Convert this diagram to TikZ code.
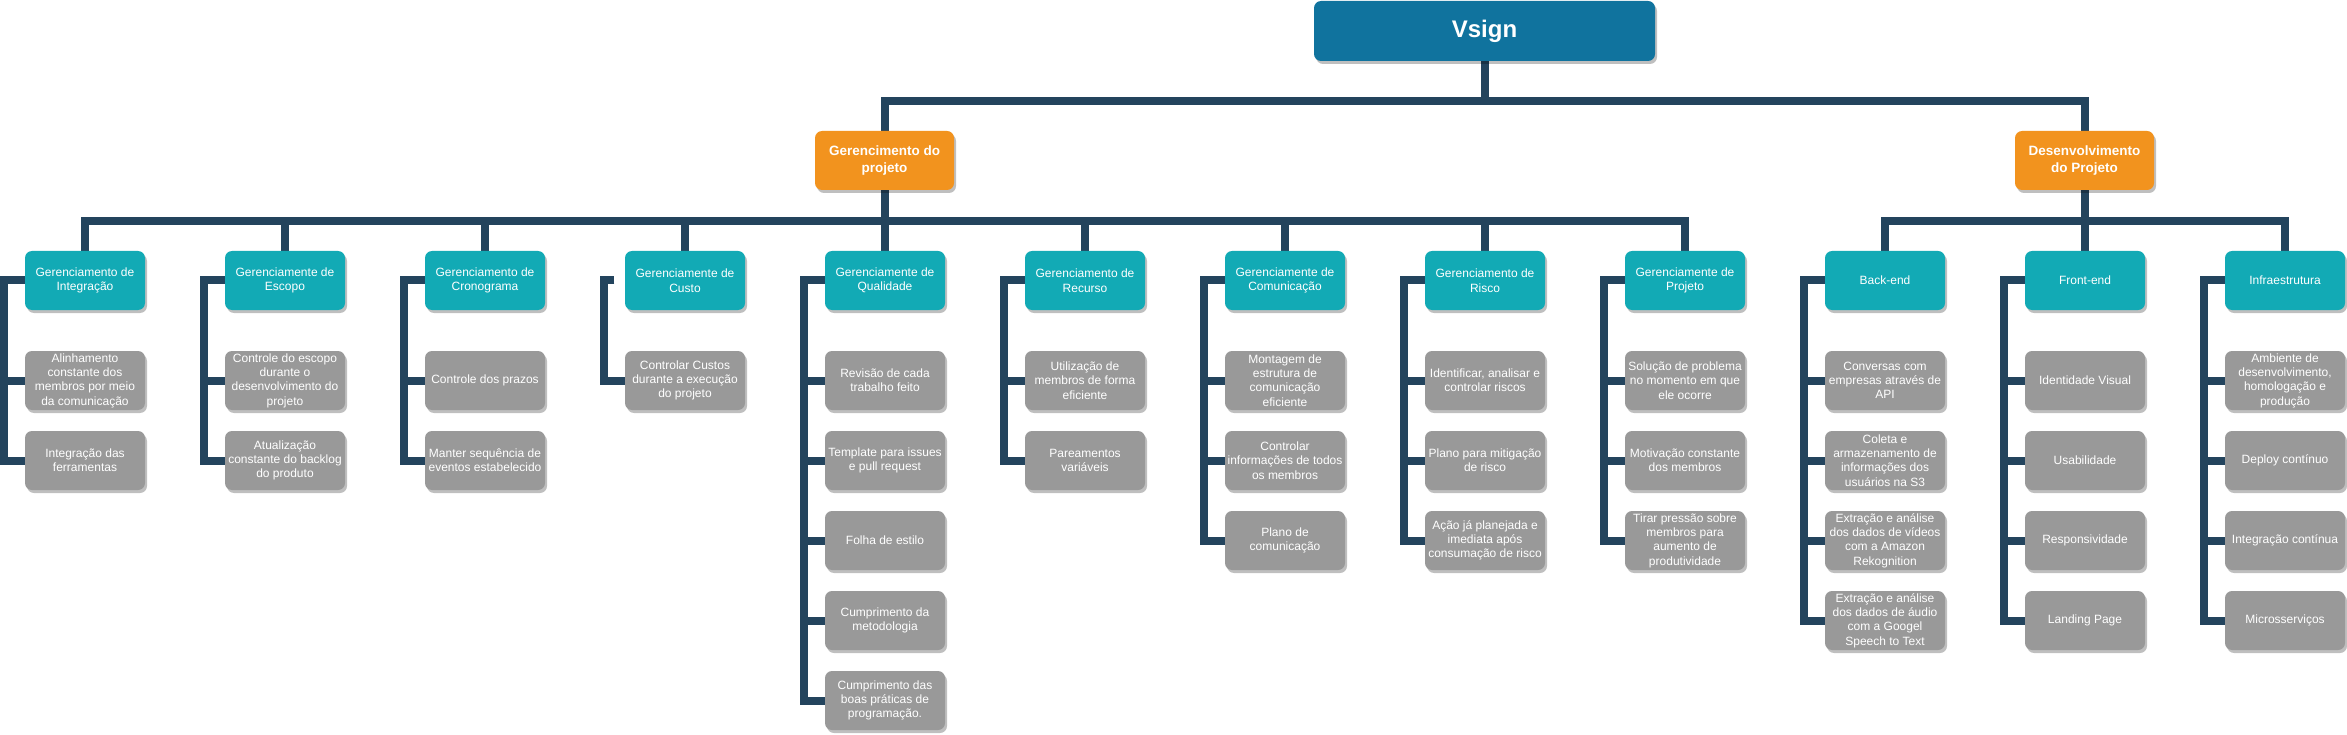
\documentclass[tikz,border=0pt]{standalone}
\usepackage{fontspec}
\setmainfont{Liberation Sans}
\usetikzlibrary{shadows,backgrounds}
\definecolor{rootc}{HTML}{10739E}
\definecolor{orangec}{HTML}{F2931E}
\definecolor{tealc}{HTML}{12AAB5}
\definecolor{grayc}{HTML}{999999}
\definecolor{linec}{HTML}{23445D}
\begin{document}
\begin{tikzpicture}[x=1pt,y=-1pt,
  box/.style={rounded corners=7pt, inner sep=1pt, align=center, text=white,
    drop shadow={shadow xshift=2pt, shadow yshift=-3pt, opacity=0.25, fill=black}},
  rootbox/.style={box, fill=rootc, minimum width=341pt, minimum height=60pt, font=\fontsize{24}{28}\selectfont\bfseries},
  phase/.style={box, fill=orangec, minimum width=139pt, minimum height=59pt, font=\fontsize{13.5}{16.5}\selectfont\bfseries},
  area/.style={box, fill=tealc, minimum width=120pt, minimum height=59pt, font=\fontsize{12}{14.5}\selectfont},
  task/.style={box, fill=grayc, minimum width=120pt, minimum height=59pt, font=\fontsize{12}{14.3}\selectfont},
  conn/.style={draw=linec, line width=8pt}
]
\useasboundingbox (0,0) rectangle (2347,735);

% root and phases
\node[rootbox] (root) at (1484.5,31) {Vsign};
\node[phase] (pm) at (884.5,160.5) {Gerencimento do\\projeto};
\node[phase] (dp) at (2084.5,160.5) {Desenvolvimento\\do Projeto};

% areas
\node[area] (a1) at (85,280.5) {Gerenciamento de\\Integração};
\node[area] (a2) at (285,280.5) {Gerenciamente de\\Escopo};
\node[area] (a3) at (485,280.5) {Gerenciamento de\\Cronograma};
\node[area] (a4) at (685,280.5) {Gerenciamente de\\Custo};
\node[area] (a5) at (885,280.5) {Gerenciamente de\\Qualidade};
\node[area] (a6) at (1085,280.5) {Gerenciamento de\\Recurso};
\node[area] (a7) at (1285,280.5) {Gerenciamente de\\Comunicação};
\node[area] (a8) at (1485,280.5) {Gerenciamento de\\Risco};
\node[area] (a9) at (1685,280.5) {Gerenciamente de\\Projeto};
\node[area] (a10) at (1885,280.5) {Back-end};
\node[area] (a11) at (2085,280.5) {Front-end};
\node[area] (a12) at (2285,280.5) {Infraestrutura};

% tasks
\node[task] (t1a) at (85,380.5) {Alinhamento\\constante dos\\membros por meio\\da comunicação};
\node[task] (t1b) at (85,460.5) {Integração das\\ferramentas};

\node[task] (t2a) at (285,380.5) {Controle do escopo\\durante o\\desenvolvimento do\\projeto};
\node[task] (t2b) at (285,460.5) {Atualização\\constante do backlog\\do produto};

\node[task] (t3a) at (485,380.5) {Controle dos prazos};
\node[task] (t3b) at (485,460.5) {Manter sequência de\\eventos estabelecido};

\node[task] (t4a) at (685,380.5) {Controlar Custos\\durante a execução\\do projeto};

\node[task] (t5a) at (885,380.5) {Revisão de cada\\trabalho feito};
\node[task] (t5b) at (885,460.5) {Template para issues\\e pull request};
\node[task] (t5c) at (885,540.5) {Folha de estilo};
\node[task] (t5d) at (885,620.5) {Cumprimento da\\metodologia};
\node[task] (t5e) at (885,700.5) {Cumprimento das\\boas práticas de\\programação.};

\node[task] (t6a) at (1085,380.5) {Utilização de\\membros de forma\\eficiente};
\node[task] (t6b) at (1085,460.5) {Pareamentos\\variáveis};

\node[task] (t7a) at (1285,380.5) {Montagem de\\estrutura de\\comunicação\\eficiente};
\node[task] (t7b) at (1285,460.5) {Controlar\\informações de todos\\os membros};
\node[task] (t7c) at (1285,540.5) {Plano de\\comunicação};

\node[task] (t8a) at (1485,380.5) {Identificar, analisar e\\controlar riscos};
\node[task] (t8b) at (1485,460.5) {Plano para mitigação\\de risco};
\node[task] (t8c) at (1485,540.5) {Ação já planejada e\\imediata após\\consumação de risco};

\node[task] (t9a) at (1685,380.5) {Solução de problema\\no momento em que\\ele ocorre};
\node[task] (t9b) at (1685,460.5) {Motivação constante\\dos membros};
\node[task] (t9c) at (1685,540.5) {Tirar pressão sobre\\membros para\\aumento de\\produtividade};

\node[task] (t10a) at (1885,380.5) {Conversas com\\empresas através de\\API};
\node[task] (t10b) at (1885,460.5) {Coleta e\\armazenamento de\\informações dos\\usuários na S3};
\node[task] (t10c) at (1885,540.5) {Extração e análise\\dos dados de vídeos\\com a Amazon\\Rekognition};
\node[task] (t10d) at (1885,620.5) {Extração e análise\\dos dados de áudio\\com a Googel\\Speech to Text};

\node[task] (t11a) at (2085,380.5) {Identidade Visual};
\node[task] (t11b) at (2085,460.5) {Usabilidade};
\node[task] (t11c) at (2085,540.5) {Responsividade};
\node[task] (t11d) at (2085,620.5) {Landing Page};

\node[task] (t12a) at (2285,380.5) {Ambiente de\\desenvolvimento,\\homologação e\\produção};
\node[task] (t12b) at (2285,460.5) {Deploy contínuo};
\node[task] (t12c) at (2285,540.5) {Integração contínua};
\node[task] (t12d) at (2285,620.5) {Microsserviços};

\coordinate (cstub) at ([xshift=-10.5pt]a4.west);

\begin{scope}[on background layer]
\fill[white] (0,0) rectangle (2347,735);
% root to phases
\draw[conn] (root.south) -- ++(0,39.5) -| (pm.north);
\draw[conn] (root.south) -- ++(0,39.5) -| (dp.north);
% phases to areas
\foreach \a in {a1,a2,a3,a4,a5,a6,a7,a8,a9}
  \draw[conn] (pm.south) -- ++(0,30.5) -| (\a.north);
\foreach \a in {a10,a11,a12}
  \draw[conn] (dp.south) -- ++(0,30.5) -| (\a.north);
% areas to tasks
\foreach \a/\t in {a1/t1a,a1/t1b,a2/t2a,a2/t2b,a3/t3a,a3/t3b,
  a5/t5a,a5/t5b,a5/t5c,a5/t5d,a5/t5e,a6/t6a,a6/t6b,
  a7/t7a,a7/t7b,a7/t7c,a8/t8a,a8/t8b,a8/t8c,a9/t9a,a9/t9b,a9/t9c,
  a10/t10a,a10/t10b,a10/t10c,a10/t10d,a11/t11a,a11/t11b,a11/t11c,a11/t11d,
  a12/t12a,a12/t12b,a12/t12c,a12/t12d}
  \draw[conn] (\a.west) -- ++(-20.5,0) |- (\t.west);
\draw[conn] (cstub) -- ++(-10,0) |- (t4a.west);
\end{scope}
\end{tikzpicture}
\end{document}
